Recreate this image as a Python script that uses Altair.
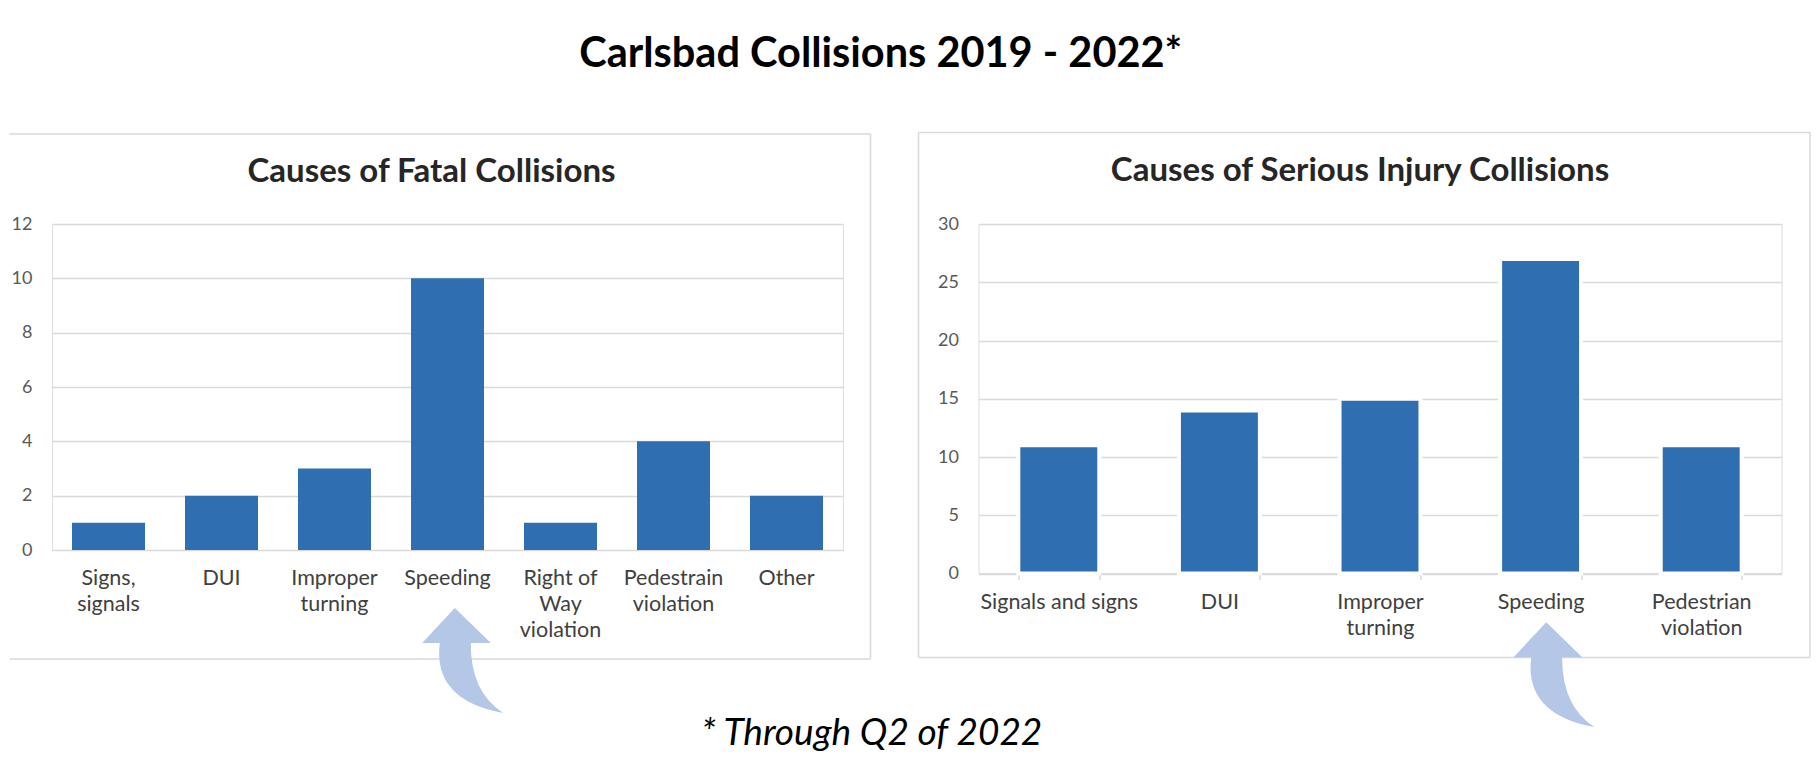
import altair as alt
import pandas as pd

main_title = "Carlsbad Collisions 2019 - 2022*"
footnote = "* Through Q2 of 2022"

fatal_title = "Causes of Fatal Collisions"
fatal_causes = ["Signs,\nsignals", "DUI", "Improper\nturning", "Speeding",
                "Right of\nWay\nviolation", "Pedestrain\nviolation", "Other"]
fatal_counts = [1, 2, 3, 10, 1, 4, 2]
fatal_ticks = [0, 2, 4, 6, 8, 10, 12]

injury_title = "Causes of Serious Injury Collisions"
injury_causes = ["Signals and signs", "DUI", "Improper\nturning", "Speeding",
                 "Pedestrian\nviolation"]
injury_counts = [11, 14, 15, 27, 11]
injury_ticks = [0, 5, 10, 15, 20, 25, 30]

FONT = "Lato"
BAR = "#2F6EB0"
GRID = "#D9D9D9"
ARROW = "#B4C7E7"

fatal_df = pd.DataFrame({"cause": fatal_causes, "count": fatal_counts})
injury_df = pd.DataFrame({"cause": injury_causes, "count": injury_counts})
one = pd.DataFrame({"k": [0]})

ARROW_PATH = ("M -0.128 -0.883 L 0.472 -0.3 L 0.138 -0.3 Q 0.132 0.516 0.678 0.867 "
              "Q -0.5 0.65 -0.378 -0.3 L -0.672 -0.3 Z")


def hrule(x1, x2, y):
    return alt.Chart(one).mark_rule(color=GRID, strokeWidth=1.5).encode(
        x=alt.value(x1), x2=alt.value(x2), y=alt.value(y))


def vrule(x, y1, y2):
    return alt.Chart(one).mark_rule(color=GRID, strokeWidth=1.5).encode(
        x=alt.value(x), y=alt.value(y1), y2=alt.value(y2))


def arrow(cx, cy):
    return alt.Chart(one).mark_point(
        shape=ARROW_PATH, size=14400, filled=True, fill=ARROW, opacity=1, strokeWidth=0
    ).encode(x=alt.value(cx), y=alt.value(cy))


def y_axis(values):
    return alt.Axis(title=None, values=values, grid=True, gridColor=GRID, gridWidth=1.5,
                    domain=False, ticks=False, labelFont=FONT, labelFontSize=18,
                    labelColor="#595959", labelPadding=20)


def panel_title(text, dx, size):
    return alt.TitleParams(text, font=FONT, fontSize=size, fontWeight="bold", color="#262626",
                           frame="group", anchor="middle", dx=dx, offset=-56)


# ---- left panel: fatal collisions
LW, LH = 791, 326
fatal_bars = alt.Chart(fatal_df).mark_bar(color=BAR).encode(
    x=alt.X("cause:N", sort=fatal_causes,
            scale=alt.Scale(paddingInner=0.354, paddingOuter=0.177),
            axis=alt.Axis(title=None, labelAngle=0, labelExpr="split(datum.label, '\\n')",
                          labelFont=FONT, labelFontSize=21.5, labelLineHeight=26,
                          labelColor="#404040", labelPadding=17, domain=False, ticks=False,
                          labelOverlap=False, grid=False)),
    y=alt.Y("count:Q", scale=alt.Scale(domain=[0, 12]), axis=y_axis(fatal_ticks)),
)

left = alt.layer(
    fatal_bars,
    hrule(-42.5, 818.5, -90),
    hrule(-42.5, 818.5, 435),
    vrule(818.5, -90, 435),
    arrow(410.5, 437),
).properties(width=LW, height=LH, title=panel_title(fatal_title, -16, 33))

# ---- right panel: serious injury collisions
RW, RH = 803, 349.5
injury_bars = alt.Chart(injury_df).mark_bar(color=BAR, stroke="white", strokeWidth=4).encode(
    x=alt.X("cause:N", sort=injury_causes,
            scale=alt.Scale(paddingInner=0.496, paddingOuter=0.248),
            axis=alt.Axis(title=None, labelAngle=0, labelExpr="split(datum.label, '\\n')",
                          labelFont=FONT, labelFontSize=21.5, labelLineHeight=26,
                          labelColor="#404040", labelPadding=12, domain=True,
                          domainColor=GRID, domainWidth=1.5, ticks=True, tickBand="extent",
                          tickColor=GRID, tickWidth=1.5, tickSize=6,
                          labelOverlap=False, grid=False)),
    y=alt.Y("count:Q", scale=alt.Scale(domain=[0, 30]), axis=y_axis(injury_ticks)),
)

right = alt.layer(
    injury_bars,
    hrule(-60, 831.5, -91.5),
    hrule(-60, 831.5, 433.5),
    vrule(-60, -91.5, 433.5),
    vrule(831.5, -91.5, 433.5),
    arrow(575.4, 451.2),
).properties(width=RW, height=RH, title=panel_title(injury_title, -20, 33))

inner = alt.hconcat(left, right, spacing=44.5).properties(
    title=alt.TitleParams(footnote, orient="bottom", anchor="middle", font=FONT,
                          fontSize=37, fontStyle="italic", fontWeight="normal",
                          color="#000000", dx=-38, offset=-11.5)
)

chart = alt.vconcat(inner).properties(
    title=alt.TitleParams(main_title, anchor="middle", font=FONT, fontSize=41.5,
                          fontWeight="bold", color="#000000", dx=-29, offset=56),
    padding={"left": 0, "top": 25, "right": 0, "bottom": 0},
).configure_view(strokeWidth=0).configure(background="white")

chart.save("out.html", embed_options={"renderer": "svg", "actions": False})
